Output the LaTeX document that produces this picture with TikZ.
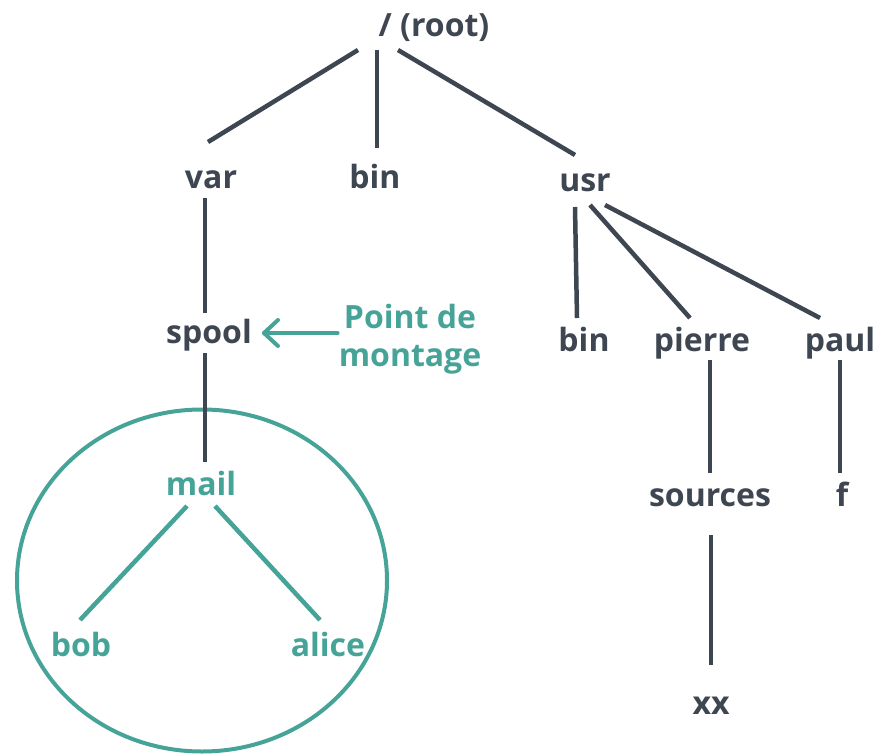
\documentclass[tikz,border=0pt]{standalone}
\usepackage{fontspec}
\setmainfont{Open Sans}
\usetikzlibrary{shapes.geometric,calc}
\definecolor{dk}{HTML}{3E4651}
\definecolor{tl}{HTML}{46A397}
\begin{document}
\begin{tikzpicture}[x=1pt,y=-1pt,
  txt/.style={inner sep=0pt,text=dk,font=\fontsize{32}{38}\selectfont\bfseries},
  lbl/.style={txt,text height=26pt,text depth=4pt},
  tlbl/.style={lbl,text=tl},
  ln/.style={draw=dk,line width=4.5pt},
  tln/.style={draw=tl,line width=4.5pt}]
\useasboundingbox (0,0) rectangle (877,754);
\node[lbl] (root) at (434,26) {/ (root)};
\node[lbl] (var) at (211,178) {var};
\node[lbl] (bin) at (375,177) {bin};
\node[lbl] (usr) at (585,180) {usr};
\node[lbl] (spool) at (209,332) {spool};
\node[txt,text=tl,align=center] (pdm) at (410,339) {Point de\\montage};
\node[lbl] (bin2) at (584,340) {bin};
\node[lbl] (pierre) at (702,340) {pierre};
\node[lbl] (paul) at (840,340) {paul};
\node[tlbl] (mail) at (201,484) {mail};
\node[lbl] (sources) at (710,495) {sources};
\node[lbl] (f) at (842,495) {f};
\node[tlbl] (bob) at (81,645) {bob};
\node[tlbl] (alice) at (328,645) {alice};
\node[lbl] (xx) at (711,703) {xx};
\node[draw=tl,line width=4pt,ellipse,minimum width=370,minimum height=342,inner sep=0pt] (circ) at (202,580.5) {};
% dark connectors
\draw[ln] ($(root)+(-76,24)$) -- ($(var)+(-3,-36)$);
\draw[ln] ($(root)+(-57,24)$) -- ($(bin)+(2,-29)$);
\draw[ln] ($(root)+(-36,24)$) -- ($(usr)+(-10,-25)$);
\draw[ln] ($(var)+(-6,20)$) -- ($(spool)+(-4,-19)$);
\draw[ln] ($(usr)+(-10,27)$) -- ($(bin2)+(-7,-22)$);
\draw[ln] ($(usr)+(5,25)$) -- ($(pierre)+(-12,-22)$);
\draw[ln] ($(usr)+(20,25)$) -- ($(paul)+(-20,-22)$);
\draw[ln] ($(spool)+(-4,21)$) -- ($(mail)+(4,-22)$);
\draw[ln] ($(pierre)+(8,20)$) -- ($(sources)+(0,-22)$);
\draw[ln] ($(paul)+(0,20)$) -- ($(f)+(-2,-22)$);
\draw[ln] ($(sources)+(1,40)$) -- ($(xx)+(0,-38)$);
% teal connectors
\draw[tln] ($(mail)+(-14,22)$) -- ($(bob)+(-1,-25)$);
\draw[tln] ($(mail)+(14,22)$) -- ($(alice)+(-8,-25)$);
\draw[tl,line width=4pt,line cap=round,line join=round] ($(pdm.west |- spool.east)+(-1,1)$) -- ($(spool.east)+(12,1)$);
\draw[tl,line width=4pt,line cap=round,line join=round] ($(spool.east)+(26,-12)$) -- ($(spool.east)+(12,1)$) -- ($(spool.east)+(26,14)$);
\end{tikzpicture}
\end{document}
